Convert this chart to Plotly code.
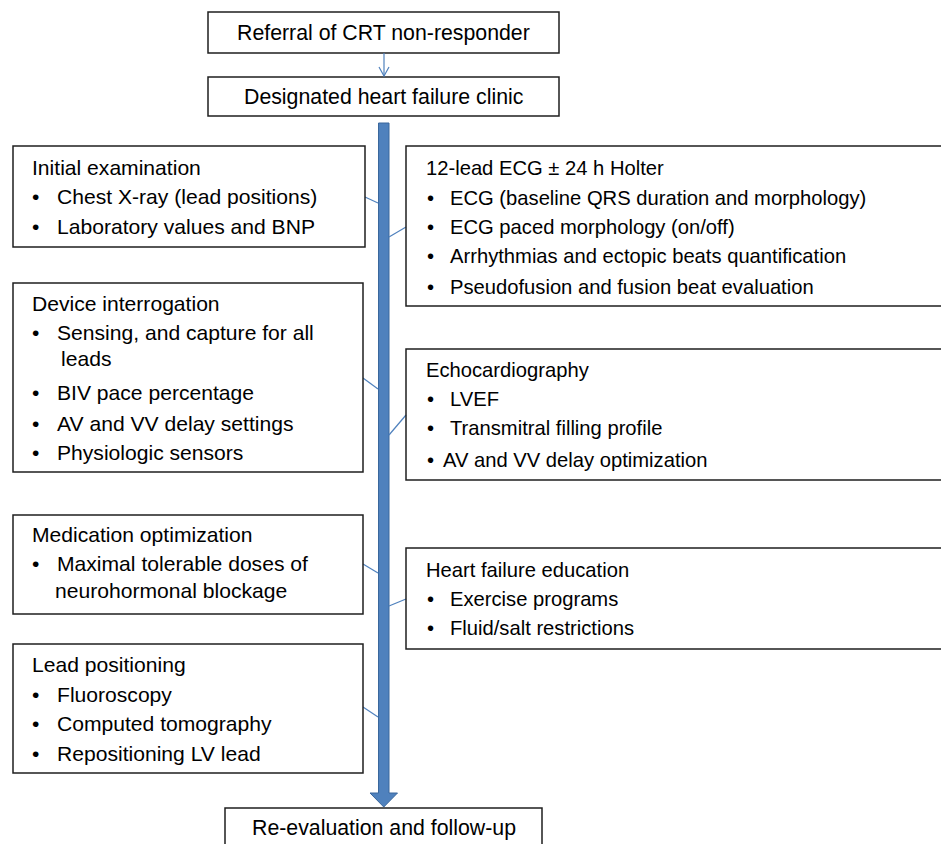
import plotly.graph_objects as go

# ---------------- content ----------------
top_labels = ["Referral of CRT non-responder", "Designated heart failure clinic"]
bottom_label = "Re-evaluation and follow-up"

left_titles = ["Initial examination", "Device interrogation",
               "Medication optimization", "Lead positioning"]
left_items = [
    ["Chest X-ray (lead positions)", "Laboratory values and BNP"],
    ["Sensing, and capture for all\nleads", "BIV pace percentage",
     "AV and VV delay settings", "Physiologic sensors"],
    ["Maximal tolerable doses of\nneurohormonal blockage"],
    ["Fluoroscopy", "Computed tomography", "Repositioning LV lead"],
]
right_titles = ["12-lead ECG \u00b1 24 h Holter", "Echocardiography",
                "Heart failure education"]
right_items = [
    ["ECG (baseline QRS duration and morphology)", "ECG paced morphology (on/off)",
     "Arrhythmias and ectopic beats quantification",
     "Pseudofusion and fusion beat evaluation"],
    ["LVEF", "Transmitral filling profile", "AV and VV delay optimization"],
    ["Exercise programs", "Fluid/salt restrictions"],
]

# ---------------- layout (pixels) ----------------
W, H = 941, 844
FONT = "Liberation Sans, Arial, sans-serif"
FS_TOP = 21.3
FS_LEFT = 21.1
FS_RIGHT = 20.2
BORDER = "#1f1f1f"
BLUE = "#4F81BD"
BLUE_EDGE = "#3A679C"

left_boxes = [(13, 146, 365, 247), (13, 283, 363, 472), (13, 515, 363, 614), (13, 644, 363, 773)]
left_lines = [[167, 196, 226], [303, 332, 358, 392, 423, 452], [534, 563, 590], [664, 694, 723, 753]]
left_cont_x = [[], [59], [53], []]
right_boxes = [(406, 146, 960, 306), (406, 349, 960, 480), (406, 548, 960, 649)]
right_lines = [[168, 198, 227, 256, 287], [370, 399, 428, 460], [570, 599, 628]]
right_text_x = [[448, 448, 448, 448], [448, 448, 441], [448, 448]]

left_conn = [((365, 197), (378, 203)), ((363, 378), (378, 389)),
             ((363, 564), (378, 573)), ((363, 707), (378, 717))]
right_conn = [((389, 237), (406, 227)), ((389, 435), (406, 415)), ((389, 606), (406, 599))]

shapes = []
annotations = []


def rect(x0, y0, x1, y1):
    shapes.append(dict(type="rect", xref="x", yref="y", x0=x0, y0=y0, x1=x1, y1=y1,
                       line=dict(color=BORDER, width=1.5), fillcolor="white", layer="above"))


def open_rect(x0, y0, x1, y1):
    # box whose right side runs off the canvas
    shapes.append(dict(type="path", xref="x", yref="y",
                       path=f"M {x1} {y0} L {x0} {y0} L {x0} {y1} L {x1} {y1}",
                       line=dict(color=BORDER, width=1.5), layer="above"))


def text(x, y, s, size, anchor="left"):
    annotations.append(dict(x=x, y=y, xref="x", yref="y", text=s, showarrow=False,
                            xanchor=anchor, yanchor="middle",
                            font=dict(family=FONT, size=size, color="black")))


# top boxes
rect(208, 12, 559, 53)
text(383.5, 32.5, top_labels[0], FS_TOP, "center")
rect(208, 77, 559, 116)
text(383.5, 96.5, top_labels[1], FS_TOP, "center")
# small arrow between top boxes
shapes.append(dict(type="line", xref="x", yref="y", x0=384, y0=53, x1=384, y1=76,
                   line=dict(color=BLUE, width=1.2)))
shapes.append(dict(type="path", xref="x", yref="y", path="M 379 67 L 384 76 L 389 67",
                   line=dict(color=BLUE, width=1.2)))

# big arrow
shapes.append(dict(type="path", xref="x", yref="y",
                   path="M 378.5 123 L 389 123 L 389 793 L 397.5 793 L 383.75 807 L 370 793 L 378.5 793 Z",
                   fillcolor=BLUE, line=dict(color=BLUE_EDGE, width=1), layer="above"))

# connectors
for (a, b) in left_conn + right_conn:
    shapes.append(dict(type="line", xref="x", yref="y", x0=a[0], y0=a[1], x1=b[0], y1=b[1],
                       line=dict(color=BLUE, width=1.2)))

# left boxes
for bi, (box, title, items) in enumerate(zip(left_boxes, left_titles, left_items)):
    rect(*box)
    ys = left_lines[bi]
    text(30, ys[0], title, FS_LEFT)
    li = 1
    ci = 0
    for it in items:
        parts = it.split("\n")
        text(30, ys[li], "\u2022", FS_LEFT)
        text(55, ys[li], parts[0], FS_LEFT)
        li += 1
        for p in parts[1:]:
            text(left_cont_x[bi][ci], ys[li], p, FS_LEFT)
            ci += 1
            li += 1

# right boxes
for bi, (box, title, items) in enumerate(zip(right_boxes, right_titles, right_items)):
    open_rect(*box)
    ys = right_lines[bi]
    text(424, ys[0], title, FS_RIGHT)
    for k, it in enumerate(items):
        text(425, ys[k + 1], "\u2022", FS_RIGHT)
        text(right_text_x[bi][k], ys[k + 1], it, FS_RIGHT)

# bottom box
rect(225, 808, 542, 860)
text(383.5, 828, bottom_label, FS_TOP, "center")

fig = go.Figure()
fig.add_trace(go.Scatter(x=[0, W], y=[0, H], mode="markers", marker=dict(opacity=0),
                         hoverinfo="skip", showlegend=False))
fig.update_layout(
    width=W, height=H, margin=dict(l=0, r=0, t=0, b=0),
    paper_bgcolor="white", plot_bgcolor="white",
    xaxis=dict(range=[0, W], visible=False, fixedrange=True),
    yaxis=dict(range=[H, 0], visible=False, fixedrange=True),
    shapes=shapes, annotations=annotations, showlegend=False,
)
fig.write_html("out.html", config={"displayModeBar": False},
               post_script="document.body.style.margin='0px';document.body.style.overflow='hidden';")
